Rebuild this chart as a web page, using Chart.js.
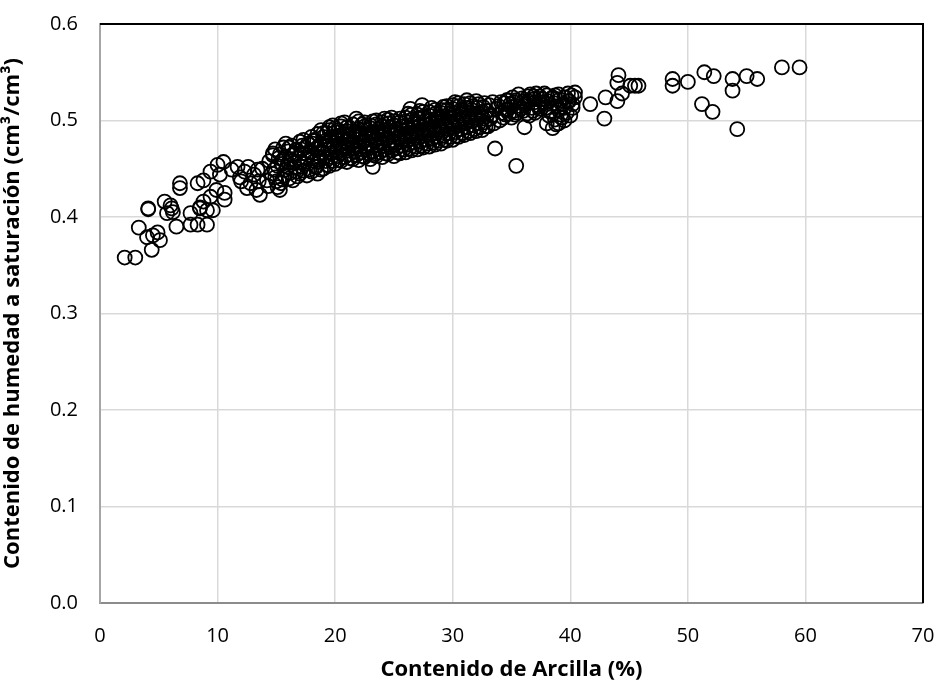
<!DOCTYPE html>
<html>
<head>
<meta charset="utf-8">
<script src="https://cdn.jsdelivr.net/npm/chart.js@4.4.1/dist/chart.umd.min.js"></script>
<style>
  html, body { margin: 0; padding: 0; background: #fff; }
  #wrap { width: 937px; height: 685px; }
</style>
</head>
<body>
<div id="wrap"><canvas id="scatterChart" width="937" height="685"></canvas></div>
<script>
// Clay content (%) and saturated water content (cm3/cm3).
// Each line of clayPct pairs with the same line of thetaSat.
const clayPct = [
  2.1, 3.0, 4.4, 4.1, 4.1, 3.3, 4.0, 4.5, 4.9, 5.1,
  5.7, 6.1, 6.5, 7.7, 8.3, 9.1, 7.7, 8.5, 9.1, 9.6,
  6.8, 6.8, 5.5, 6.0, 6.2, 8.3, 8.8, 9.4, 10.0, 10.5,
  8.5, 8.8, 9.4, 9.9, 10.6, 10.6, 11.7, 11.9, 12.5, 13.4,
  13.6, 14.2, 15.1, 15.3, 12.0, 12.3, 12.8, 13.1, 13.3, 13.8,
  13.5, 12.6, 11.2, 10.2,
  14.3, 14.6, 14.4, 14.7,
  15.0, 14.8, 15.2, 14.9,
  15.4, 15.7, 15.5, 15.3, 15.6,
  16.1, 15.9, 16.2, 16.0, 15.8,
  16.4, 16.7, 16.5, 16.6, 16.3,
  17.0, 17.2, 16.9, 17.1, 17.0,
  17.6, 17.4, 17.7, 17.5, 17.3,
  18.0, 18.2, 17.9, 18.1, 18.0,
  18.5, 18.4, 18.7, 18.6, 18.3, 18.5,
  19.0, 19.2, 18.9, 19.1, 19.0, 18.8,
  19.5, 19.7, 19.4, 19.6, 19.3, 19.5,
  20.0, 20.2, 19.9, 20.1, 20.0, 19.8,
  20.5, 20.4, 20.7, 20.6, 20.3, 20.5,
  21.0, 21.2, 20.9, 21.1, 21.0, 20.8,
  21.5, 21.7, 21.4, 21.6, 21.3, 21.8,
  22.0, 22.2, 21.9, 22.1, 22.0, 22.3,
  22.5, 22.7, 22.4, 22.6, 22.5,
  23.0, 23.2, 22.9, 23.1, 23.0, 23.2, 23.2,
  23.5, 23.7, 23.4, 23.6, 23.5,
  24.0, 24.2, 23.9, 24.1, 24.0, 24.2,
  24.5, 24.7, 24.4, 24.6, 24.5,
  25.0, 25.2, 24.9, 25.1, 25.0, 24.8,
  25.5, 25.7, 25.4, 25.6, 25.5,
  26.0, 26.2, 25.9, 26.1, 26.0, 26.2,
  26.5, 26.7, 26.4, 26.6, 26.5, 26.4,
  27.0, 27.2, 26.9, 27.1, 27.0, 27.2,
  27.5, 27.7, 27.4, 27.6, 27.5, 27.4,
  28.0, 28.2, 27.9, 28.1, 28.0, 28.2,
  28.5, 28.7, 28.4, 28.6, 28.5,
  29.0, 29.2, 28.9, 29.1, 29.0, 29.2,
  29.5, 29.7, 29.4, 29.6, 29.5,
  30.0, 30.2, 29.9, 30.1, 30.0, 30.2,
  30.5, 30.7, 30.4, 30.6, 30.5,
  31.0, 31.2, 30.9, 31.1, 31.0, 31.2,
  31.5, 31.7, 31.4, 31.6, 31.5,
  32.0, 32.2, 31.9, 32.1, 32.0,
  32.5, 32.7, 32.4, 32.6,
  33.0, 33.2, 32.9, 33.1, 33.6,
  34.0, 34.2, 33.9, 34.1,
  34.5, 34.7, 34.4,
  35.0, 35.2, 34.9, 35.1, 35.4,
  35.5, 35.7, 35.4, 35.6,
  36.0, 36.2, 35.9, 36.1,
  36.5, 36.7, 36.4, 36.6,
  37.0, 37.2, 36.9, 37.1,
  37.5, 37.7, 37.4,
  38.0, 38.2, 37.9, 38.1, 38.0,
  38.5, 38.7, 38.4, 38.6, 38.5,
  39.0, 39.2, 38.9, 39.1, 39.0,
  39.5, 39.7, 39.4, 39.6,
  40.0, 40.2, 39.9, 40.1, 40.4, 40.4,
  41.7, 43.0, 42.9, 44.0, 44.4, 44.0, 44.1, 45.1, 45.8, 45.5,
  48.7, 48.7, 50.0, 51.4, 52.2, 53.8, 53.8, 55.0, 55.9, 58.0,
  59.5, 51.2, 52.1, 54.2,
  // second pass through the dense band
  14.9, 15.1, 14.7,
  15.5, 15.8, 15.6,
  16.2, 16.0, 16.3, 16.1,
  16.8, 16.6, 16.9, 16.7,
  17.3, 17.1, 17.4, 17.2,
  17.8, 17.6, 17.9, 17.7,
  18.3, 18.1, 18.4, 18.2,
  18.8, 18.6, 18.9, 18.7,
  19.3, 19.1, 19.4, 19.2, 19.0,
  19.8, 19.6, 19.9, 19.7, 19.5,
  20.3, 20.1, 20.4, 20.2, 20.0,
  20.8, 20.6, 20.9, 20.7, 20.5,
  21.3, 21.1, 21.4, 21.2, 21.0,
  21.8, 21.6, 21.9, 21.7, 21.5,
  22.3, 22.1, 22.4, 22.2, 22.0,
  22.8, 22.6, 22.9, 22.7, 22.5,
  23.3, 23.1, 23.4, 23.2, 23.0,
  23.8, 23.6, 23.9, 23.7, 23.5,
  24.3, 24.1, 24.4, 24.2, 24.0,
  24.8, 24.6, 24.9, 24.7, 24.5,
  25.3, 25.1, 25.4, 25.2, 25.0,
  25.8, 25.6, 25.9, 25.7, 25.5,
  26.3, 26.1, 26.4, 26.2, 26.0,
  26.8, 26.6, 26.9, 26.7, 26.5,
  27.3, 27.1, 27.4, 27.2, 27.0,
  27.8, 27.6, 27.9, 27.7, 27.5,
  28.3, 28.1, 28.4, 28.2, 28.0,
  28.8, 28.6, 28.9, 28.7, 28.5,
  29.3, 29.1, 29.4, 29.2, 29.0,
  29.8, 29.6, 29.9, 29.7, 29.5,
  30.3, 30.1, 30.4, 30.2, 30.0,
  30.8, 30.6, 30.9, 30.7, 30.5,
  31.3, 31.1, 31.4, 31.2,
  31.8, 31.6, 31.9, 31.7,
  32.3, 32.1, 32.4, 32.2,
  32.8, 32.6, 32.9, 32.7,
  33.5, 33.3, 33.7, 33.4,
  34.3, 34.5, 34.6,
  34.8, 35.0, 34.7,
  35.3, 35.8, 35.2,
  36.3, 36.0, 36.4,
  36.8, 37.0, 36.9,
  37.3, 37.6, 37.8,
  38.3, 38.0, 38.4,
  38.8, 39.0, 38.7,
  39.3, 39.5, 39.8,
  40.2, 39.8
];

const thetaSat = [
  0.358, 0.358, 0.366, 0.408, 0.409, 0.389, 0.379, 0.381, 0.384, 0.376,
  0.404, 0.409, 0.390, 0.392, 0.392, 0.392, 0.404, 0.409, 0.407, 0.407,
  0.435, 0.430, 0.416, 0.412, 0.405, 0.435, 0.438, 0.447, 0.454, 0.457,
  0.410, 0.416, 0.421, 0.428, 0.425, 0.418, 0.452, 0.441, 0.430, 0.449,
  0.423, 0.438, 0.431, 0.428, 0.437, 0.447, 0.435, 0.444, 0.428, 0.450,
  0.437, 0.452, 0.449, 0.444,
  0.432, 0.445, 0.458, 0.466,
  0.437, 0.449, 0.461, 0.470,
  0.435, 0.443, 0.455, 0.465, 0.472,
  0.440, 0.452, 0.460, 0.468, 0.476,
  0.438, 0.447, 0.456, 0.466, 0.474,
  0.445, 0.452, 0.461, 0.470, 0.478,
  0.443, 0.455, 0.464, 0.472, 0.480,
  0.447, 0.458, 0.467, 0.476, 0.483,
  0.445, 0.452, 0.462, 0.471, 0.479, 0.486,
  0.450, 0.458, 0.466, 0.474, 0.483, 0.490,
  0.453, 0.462, 0.470, 0.478, 0.487, 0.493,
  0.455, 0.463, 0.472, 0.480, 0.488, 0.495,
  0.458, 0.466, 0.474, 0.482, 0.490, 0.497,
  0.457, 0.465, 0.473, 0.481, 0.489, 0.498,
  0.460, 0.468, 0.476, 0.484, 0.492, 0.502,
  0.459, 0.467, 0.475, 0.483, 0.491, 0.496,
  0.462, 0.470, 0.478, 0.486, 0.494,
  0.460, 0.468, 0.476, 0.484, 0.492, 0.499, 0.452,
  0.463, 0.471, 0.479, 0.487, 0.496,
  0.462, 0.470, 0.478, 0.486, 0.494, 0.502,
  0.465, 0.473, 0.481, 0.489, 0.497,
  0.463, 0.471, 0.479, 0.487, 0.495, 0.503,
  0.466, 0.474, 0.482, 0.490, 0.498,
  0.467, 0.475, 0.483, 0.491, 0.499, 0.507,
  0.469, 0.477, 0.485, 0.493, 0.501, 0.512,
  0.470, 0.478, 0.486, 0.494, 0.502, 0.510,
  0.472, 0.480, 0.488, 0.496, 0.504, 0.516,
  0.473, 0.481, 0.489, 0.497, 0.505, 0.513,
  0.475, 0.483, 0.491, 0.499, 0.507,
  0.476, 0.484, 0.492, 0.500, 0.508, 0.514,
  0.479, 0.487, 0.495, 0.503, 0.511,
  0.480, 0.488, 0.496, 0.504, 0.512, 0.519,
  0.483, 0.491, 0.499, 0.507, 0.515,
  0.485, 0.493, 0.501, 0.509, 0.517, 0.521,
  0.487, 0.495, 0.503, 0.511, 0.518,
  0.489, 0.497, 0.505, 0.513, 0.520,
  0.490, 0.498, 0.506, 0.514,
  0.494, 0.502, 0.510, 0.516, 0.471,
  0.500, 0.508, 0.515, 0.519,
  0.506, 0.512, 0.518,
  0.503, 0.510, 0.517, 0.524, 0.453,
  0.508, 0.515, 0.521, 0.527,
  0.510, 0.517, 0.523, 0.493,
  0.505, 0.513, 0.520, 0.527,
  0.508, 0.516, 0.522, 0.528,
  0.512, 0.519, 0.525,
  0.497, 0.505, 0.513, 0.520, 0.526,
  0.492, 0.501, 0.510, 0.518, 0.524,
  0.497, 0.506, 0.515, 0.522, 0.527,
  0.500, 0.508, 0.517, 0.524,
  0.505, 0.513, 0.520, 0.526, 0.524, 0.529,
  0.517, 0.524, 0.502, 0.520, 0.528, 0.539, 0.547, 0.536, 0.536, 0.536,
  0.543, 0.536, 0.540, 0.550, 0.546, 0.543, 0.531, 0.546, 0.543, 0.555,
  0.555, 0.517, 0.509, 0.491,
  // second pass through the dense band
  0.441, 0.453, 0.464,
  0.439, 0.449, 0.460,
  0.446, 0.456, 0.464, 0.472,
  0.442, 0.451, 0.461, 0.470,
  0.448, 0.457, 0.466, 0.474,
  0.449, 0.460, 0.468, 0.476,
  0.452, 0.462, 0.471, 0.480,
  0.449, 0.457, 0.467, 0.475,
  0.454, 0.462, 0.470, 0.479, 0.487,
  0.458, 0.466, 0.474, 0.483, 0.490,
  0.459, 0.468, 0.476, 0.484, 0.492,
  0.462, 0.470, 0.478, 0.486, 0.494,
  0.461, 0.469, 0.477, 0.485, 0.493,
  0.464, 0.472, 0.480, 0.488, 0.496,
  0.463, 0.471, 0.479, 0.487, 0.499,
  0.466, 0.474, 0.482, 0.490, 0.498,
  0.464, 0.472, 0.480, 0.488, 0.495,
  0.467, 0.475, 0.483, 0.491, 0.500,
  0.466, 0.474, 0.482, 0.490, 0.498,
  0.469, 0.477, 0.485, 0.493, 0.501,
  0.467, 0.475, 0.483, 0.491, 0.499,
  0.470, 0.478, 0.486, 0.494, 0.502,
  0.471, 0.479, 0.487, 0.495, 0.503,
  0.473, 0.481, 0.489, 0.497, 0.506,
  0.474, 0.482, 0.490, 0.498, 0.506,
  0.476, 0.484, 0.492, 0.500, 0.509,
  0.477, 0.485, 0.493, 0.501, 0.509,
  0.479, 0.487, 0.495, 0.503, 0.511,
  0.480, 0.488, 0.496, 0.504, 0.511,
  0.483, 0.491, 0.499, 0.507, 0.515,
  0.484, 0.492, 0.500, 0.508, 0.516,
  0.487, 0.495, 0.503, 0.511, 0.518,
  0.489, 0.497, 0.505, 0.513,
  0.491, 0.499, 0.507, 0.515,
  0.493, 0.501, 0.509, 0.517,
  0.494, 0.502, 0.510, 0.518,
  0.497, 0.505, 0.512, 0.519,
  0.503, 0.511, 0.521,
  0.507, 0.514, 0.521,
  0.506, 0.512, 0.519,
  0.507, 0.520, 0.525,
  0.510, 0.519, 0.525,
  0.514, 0.522, 0.528,
  0.509, 0.517, 0.523,
  0.496, 0.511, 0.526,
  0.503, 0.513, 0.520,
  0.517, 0.528
];

const xTitle = 'Contenido de Arcilla (%)';
const yTitle = 'Contenido de humedad a saturación (cm³/cm³)';

const points = clayPct.map((x, i) => ({ x: x, y: thetaSat[i] }));

// top and right edges of the plot area are drawn black in the original
const frameEdges = {
    id: 'frameEdges',
    afterDatasetsDraw(chart) {
        const { ctx, chartArea } = chart;
        ctx.save();
        ctx.strokeStyle = '#000';
        ctx.lineWidth = 2;
        ctx.beginPath();
        ctx.moveTo(chartArea.left, chartArea.top);
        ctx.lineTo(chartArea.right, chartArea.top);
        ctx.lineTo(chartArea.right, chartArea.bottom);
        ctx.stroke();
        ctx.restore();
    }
};

const ctx = document.getElementById('scatterChart').getContext('2d');
new Chart(ctx, {
    type: 'scatter',
    data: {
        datasets: [{
            data: points,
            pointStyle: 'circle',
            pointRadius: 7,
            borderColor: '#000',
            borderWidth: 1.8,
            backgroundColor: 'rgba(0,0,0,0)'
        }]
    },
    options: {
        responsive: false,
        animation: false,
        devicePixelRatio: 1,
        layout: { padding: { top: 24, right: 14, left: 0, bottom: 0 } },
        plugins: {
            legend: { display: false },
            tooltip: { enabled: false }
        },
        scales: {
            x: {
                type: 'linear',
                min: 0,
                max: 70,
                ticks: {
                    stepSize: 10,
                    color: '#000',
                    padding: 21,
                    font: { family: 'Open Sans', size: 20 }
                },
                grid: { color: '#d9d9d9', lineWidth: 1.5, drawTicks: false },
                border: { color: '#8c8c8c', width: 2 },
                title: {
                    display: true,
                    text: xTitle,
                    color: '#000',
                    font: { family: 'Open Sans', size: 22, weight: 'bold', lineHeight: 1 },
                    padding: { top: 0, bottom: 4 }
                },
                afterFit: s => {
                    s.height = 82;
                    s.paddingLeft = 0;
                    s.paddingRight = 0;
                }
            },
            y: {
                type: 'linear',
                min: 0,
                max: 0.6,
                ticks: {
                    stepSize: 0.1,
                    color: '#000',
                    padding: 22,
                    font: { family: 'Open Sans', size: 20 },
                    callback: v => v.toFixed(1)
                },
                grid: { color: '#d9d9d9', lineWidth: 1.5, drawTicks: false },
                border: { color: '#a6a6a6', width: 2 },
                title: {
                    display: true,
                    text: yTitle,
                    color: '#000',
                    font: { family: 'Open Sans', size: 22, weight: 'bold', lineHeight: 1 },
                    padding: { top: 2, bottom: 0 }
                },
                afterFit: s => {
                    s.width = 100;
                    s.paddingTop = 0;
                    s.paddingBottom = 0;
                }
            }
        }
    },
    plugins: [frameEdges]
});
</script>
</body>
</html>
